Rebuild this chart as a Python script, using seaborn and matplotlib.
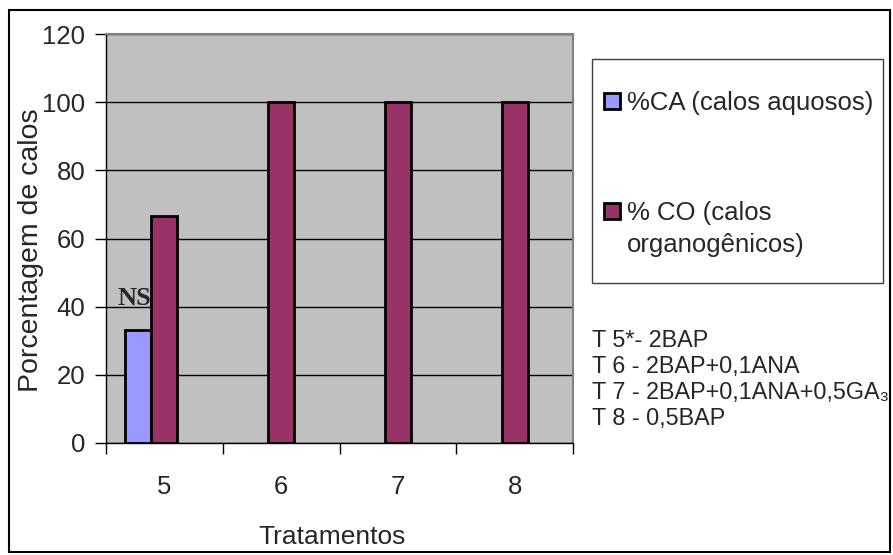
import matplotlib
matplotlib.use("Agg")
import matplotlib.pyplot as plt
from matplotlib.patches import Rectangle
import seaborn as sns
import pandas as pd
import numpy as np

# Data
tratamentos = ["5", "6", "7", "8"]
calos_aquosos = [33.3, np.nan, np.nan, np.nan]
calos_organogenicos = [66.7, 100, 100, 100]
y_ticks = [0, 20, 40, 60, 80, 100, 120]
legend_ca = ["%CA (calos aquosos)"]
legend_co = ["% CO (calos", "organogênicos)"]
notes = ["T 5*- 2BAP", "T 6 - 2BAP+0,1ANA", "T 7 - 2BAP+0,1ANA+0,5GA\u2083", "T 8 - 0,5BAP"]
cor_ca = "#9999FF"
cor_co = "#993366"

# Three dodge slots; the third is empty so CO sits on the category centre
df = pd.DataFrame({
    "Tratamento": tratamentos * 3,
    "Serie": ["CA"] * 4 + ["CO"] * 4 + ["vazio"] * 4,
    "Valor": calos_aquosos + calos_organogenicos + [np.nan] * 4,
})

sns.set_theme(style="white")
plt.rcParams["font.family"] = ["Liberation Sans", "DejaVu Sans"]

W, H = 893, 555
FS = 18.5

fig = plt.figure(figsize=(8.93, 5.55), dpi=100)
ax = fig.add_axes([106 / W, 1 - 443 / H, 467 / W, 409 / H])
ax.set_facecolor("#C0C0C0")

sns.barplot(data=df, x="Tratamento", y="Valor", hue="Serie",
            order=tratamentos, hue_order=["CA", "CO", "vazio"],
            palette={"CA": cor_ca, "CO": cor_co, "vazio": "#000000"},
            width=0.667, dodge=True, edgecolor="black", linewidth=2,
            saturation=1, errorbar=None, legend=False, ax=ax, zorder=3)

ax.set_xlim(-0.5, 3.5)
ax.set_ylim(0, 120)
ax.set_yticks(y_ticks)
ax.set_yticklabels([str(t) for t in y_ticks], fontsize=FS)
ax.yaxis.grid(True, color="black", linewidth=1)
ax.set_axisbelow(True)
ax.tick_params(axis="y", which="major", direction="out", length=8, width=1,
               color="black", left=True, pad=7)

# x: ticks at category boundaries, labels at centres
ax.set_xticks(np.arange(-0.5, 4.0, 1.0))
ax.set_xticklabels([])
ax.set_xticks(range(len(tratamentos)), minor=True)
ax.set_xticklabels(tratamentos, minor=True, fontsize=FS)
ax.tick_params(axis="x", which="major", direction="out", length=8, width=1,
               color="black", bottom=True)
ax.tick_params(axis="x", which="minor", length=0, pad=23)

ax.set_xlabel("Tratamentos", fontsize=19)
ax.xaxis.set_label_coords((332 - 106) / 467, (443 - 525) / 409)
ax.set_ylabel("Porcentagem de calos", fontsize=20.5)
ax.yaxis.set_label_coords((44 - 106) / 467, (443 - 250) / 409)

for side in ["top", "right"]:
    ax.spines[side].set_color("#808080")
    ax.spines[side].set_linewidth(1.5)
for side in ["left", "bottom"]:
    ax.spines[side].set_color("black")
    ax.spines[side].set_linewidth(1)

# NS marker above the CA bar of treatment 5
ax.text(-0.26, calos_aquosos[0] + 7.2, "NS", fontsize=19, fontweight="bold",
        family="Liberation Serif", ha="center", va="baseline", zorder=4)

# Legend drawn as a framed box with swatches
fig.patches.append(Rectangle((592 / W, 1 - 283 / H), 291 / W, 224 / H,
                             transform=fig.transFigure, facecolor="white",
                             edgecolor="#404040", linewidth=1))
for (cor, linhas, yc, yb) in [(cor_ca, legend_ca, 101, 110),
                              (cor_co, legend_co, 211, 220)]:
    fig.patches.append(Rectangle((604 / W, 1 - (yc + 8) / H), 16 / W, 16 / H,
                                 transform=fig.transFigure, facecolor=cor,
                                 edgecolor="black", linewidth=2))
    for j, linha in enumerate(linhas):
        fig.text(627 / W, 1 - (yb + 32 * j) / H, linha, fontsize=FS,
                 ha="left", va="baseline")

# Treatment key
for i, linha in enumerate(notes):
    fig.text(592 / W, 1 - (347 + 26 * i) / H, linha, fontsize=16.8,
             ha="left", va="baseline")

# Outer frame
fig.patches.append(Rectangle((9 / W, 1 - 552 / H), 881 / W, 542 / H,
                             transform=fig.transFigure, facecolor="none",
                             edgecolor="black", linewidth=1.5))

fig.savefig("out.png", dpi=100)
